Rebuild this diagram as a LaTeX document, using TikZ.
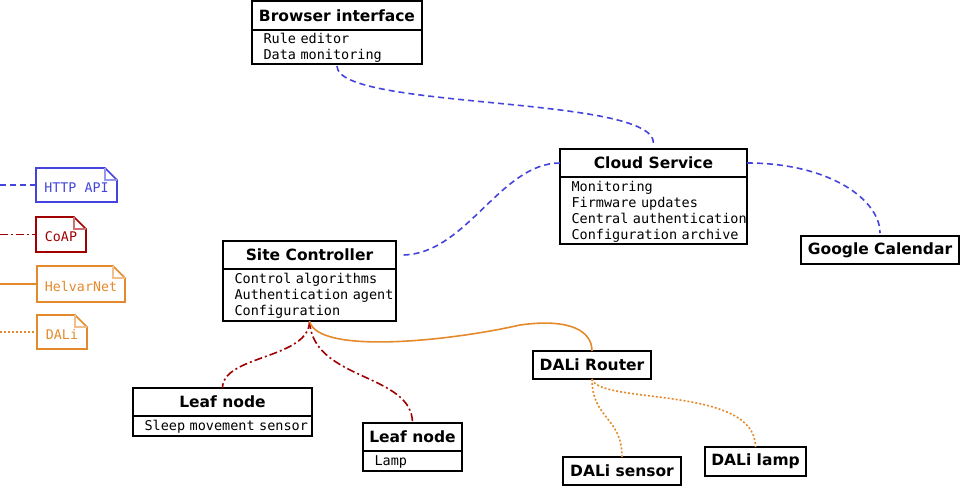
\documentclass[tikz,border=0pt]{standalone}
\usepackage{fontspec}
\setmainfont{DejaVu Sans}
\newfontfamily\codefont{DejaVu Sans Mono}[WordSpace={1,0,0}]
\usetikzlibrary{positioning}
\definecolor{httpblue}{RGB}{68,68,221}
\definecolor{coapred}{RGB}{160,0,0}
\definecolor{helvarorange}{RGB}{228,138,44}
\newcommand{\dutylist}[1]{\raisebox{-5pt}[0pt][0pt]{\begin{tabular}{@{\hspace{11.5pt}}l@{}}#1\end{tabular}}}
\tikzset{
  boxtitle/.style={draw, line width=1.6pt, inner sep=0pt, outer sep=0pt, anchor=north west, font=\fontsize{15.5}{18}\selectfont\bfseries},
  boxbody/.style={draw, line width=1.6pt, inner sep=0pt, outer sep=0pt, align=left, font=\codefont\fontsize{13.5}{16}\selectfont},
  legendnote/.style={inner sep=0pt, outer sep=0pt, anchor=north west, text height=15pt, text depth=0pt, font=\codefont\fontsize{13.3}{16}\selectfont},
  http/.style={httpblue, line width=1.6pt, dash pattern=on 6pt off 4pt},
  coap/.style={coapred, line width=1.6pt, dash pattern=on 8pt off 3pt on 2pt off 3pt},
  helvar/.style={helvarorange, line width=1.6pt},
  dali/.style={helvarorange, line width=1.6pt, dash pattern=on 2pt off 2pt}
}
\begin{document}
\begin{tikzpicture}[x=1pt, y=-1pt]
			\useasboundingbox (0,0) rectangle (960,486);
			% boxes with a list of duties
			\node [boxtitle, minimum width=170pt, minimum height=29pt] (browser) at (252,1) {Browser interface};
			\node [boxbody, text width=170pt, minimum height=34pt, below=0pt of browser] (browserbody) {\dutylist{Rule editor\\Data monitoring}};
			\node [boxtitle, minimum width=187pt, minimum height=28pt] (cloud) at (560,149) {Cloud Service};
			\node [boxbody, text width=187pt, minimum height=67pt, below=0pt of cloud] (cloudbody) {\dutylist{Monitoring\\Firmware updates\\Central authentication\\Configuration archive}};
			\node [boxtitle, minimum width=173pt, minimum height=28pt] (site) at (223,241) {Site Controller};
			\node [boxbody, text width=173pt, minimum height=52pt, below=0pt of site] (sitebody) {\dutylist{Control algorithms\\Authentication agent\\Configuration}};
			\node [boxtitle, minimum width=179pt, minimum height=28pt] (leafa) at (133,388) {Leaf node};
			\node [boxbody, text width=179pt, minimum height=20pt, below=0pt of leafa] (leafabody) {\dutylist{Sleep movement sensor}};
			\node [boxtitle, minimum width=99pt, minimum height=28pt] (leafb) at (363,423) {Leaf node};
			\node [boxbody, text width=99pt, minimum height=20pt, below=0pt of leafb] (leafbbody) {\dutylist{Lamp}};
			% plain boxes
			\node [boxtitle, minimum width=118pt, minimum height=28pt] (router) at (533,351) {DALi Router};
			\node [boxtitle, minimum width=118pt, minimum height=28pt] (sensor) at (563,457) {DALi sensor};
			\node [boxtitle, minimum width=101pt, minimum height=29pt] (lamp) at (705,447) {DALi lamp};
			\node [boxtitle, minimum width=158pt, minimum height=28pt] (calendar) at (801,236) {Google Calendar};
			% links
			\draw [http, shorten <=2pt, shorten >=6pt] (browserbody.south) .. controls +(0,46) and +(0,-54) .. (cloud.north);
			\draw [http, shorten >=6pt] (cloud.west) .. controls +(-60,0) and +(70,0) .. (site.east);
			\draw [http, shorten >=3pt] (cloud.east) .. controls +(83,0) and +(0,-36) .. (calendar.north);
			\draw [coap] (sitebody.south) .. controls +(0,38) and +(0,-33) .. (leafa.north);
			\draw [coap] (sitebody.south) .. controls +(3,60) and +(0,-50) .. (leafb.north);
			\coordinate (helvarbend) at (520,325);
			\draw [helvar] (sitebody.south) .. controls +(8,34) and +(-70,16) .. (helvarbend) .. controls +(50,-7) and +(0,-20) .. (router.north);
			\draw [dali] (router.south) .. controls +(0,40) and +(0,-40) .. (sensor.north);
			\draw [dali] (router.south) .. controls +(8,26) and +(0,-62) .. (lamp.north);
			% legend
			\node [legendnote, text=httpblue, minimum width=81pt, minimum height=34pt] (httpnote) at (36,168) {HTTP API};
			\node [legendnote, text=coapred, minimum width=50pt, minimum height=35pt] (coapnote) at (36,217) {CoAP};
			\node [legendnote, text=helvarorange, minimum width=88pt, minimum height=36pt] (helvarnote) at (37,266) {HelvarNet};
			\node [legendnote, text=helvarorange, minimum width=50pt, minimum height=34pt] (dalinote) at (37,315) {DALi};
			\foreach \n/\c in {httpnote/httpblue, coapnote/coapred, helvarnote/helvarorange, dalinote/helvarorange} {
				\draw [\c, line width=1.6pt] (\n.south west) -- (\n.north west) -- ([xshift=-12pt]\n.north east) -- ([yshift=-12pt]\n.north east) -- (\n.south east) -- cycle;
				\draw [\c!55, line width=1.2pt] ([xshift=-12pt]\n.north east) -- ([xshift=-12pt,yshift=-12pt]\n.north east) -- ([yshift=-12pt]\n.north east);
			}
			\coordinate (httpstart) at (0,185);
			\coordinate (coapstart) at (0,234.5);
			\coordinate (helvarstart) at (0,284);
			\coordinate (dalistart) at (0,332);
			\draw [http] (httpstart) -- (httpnote);
			\draw [coap] (coapstart) -- (coapnote);
			\draw [helvar] (helvarstart) -- (helvarnote);
			\draw [dali] (dalistart) -- (dalinote);
			\end{tikzpicture}
\end{document}
